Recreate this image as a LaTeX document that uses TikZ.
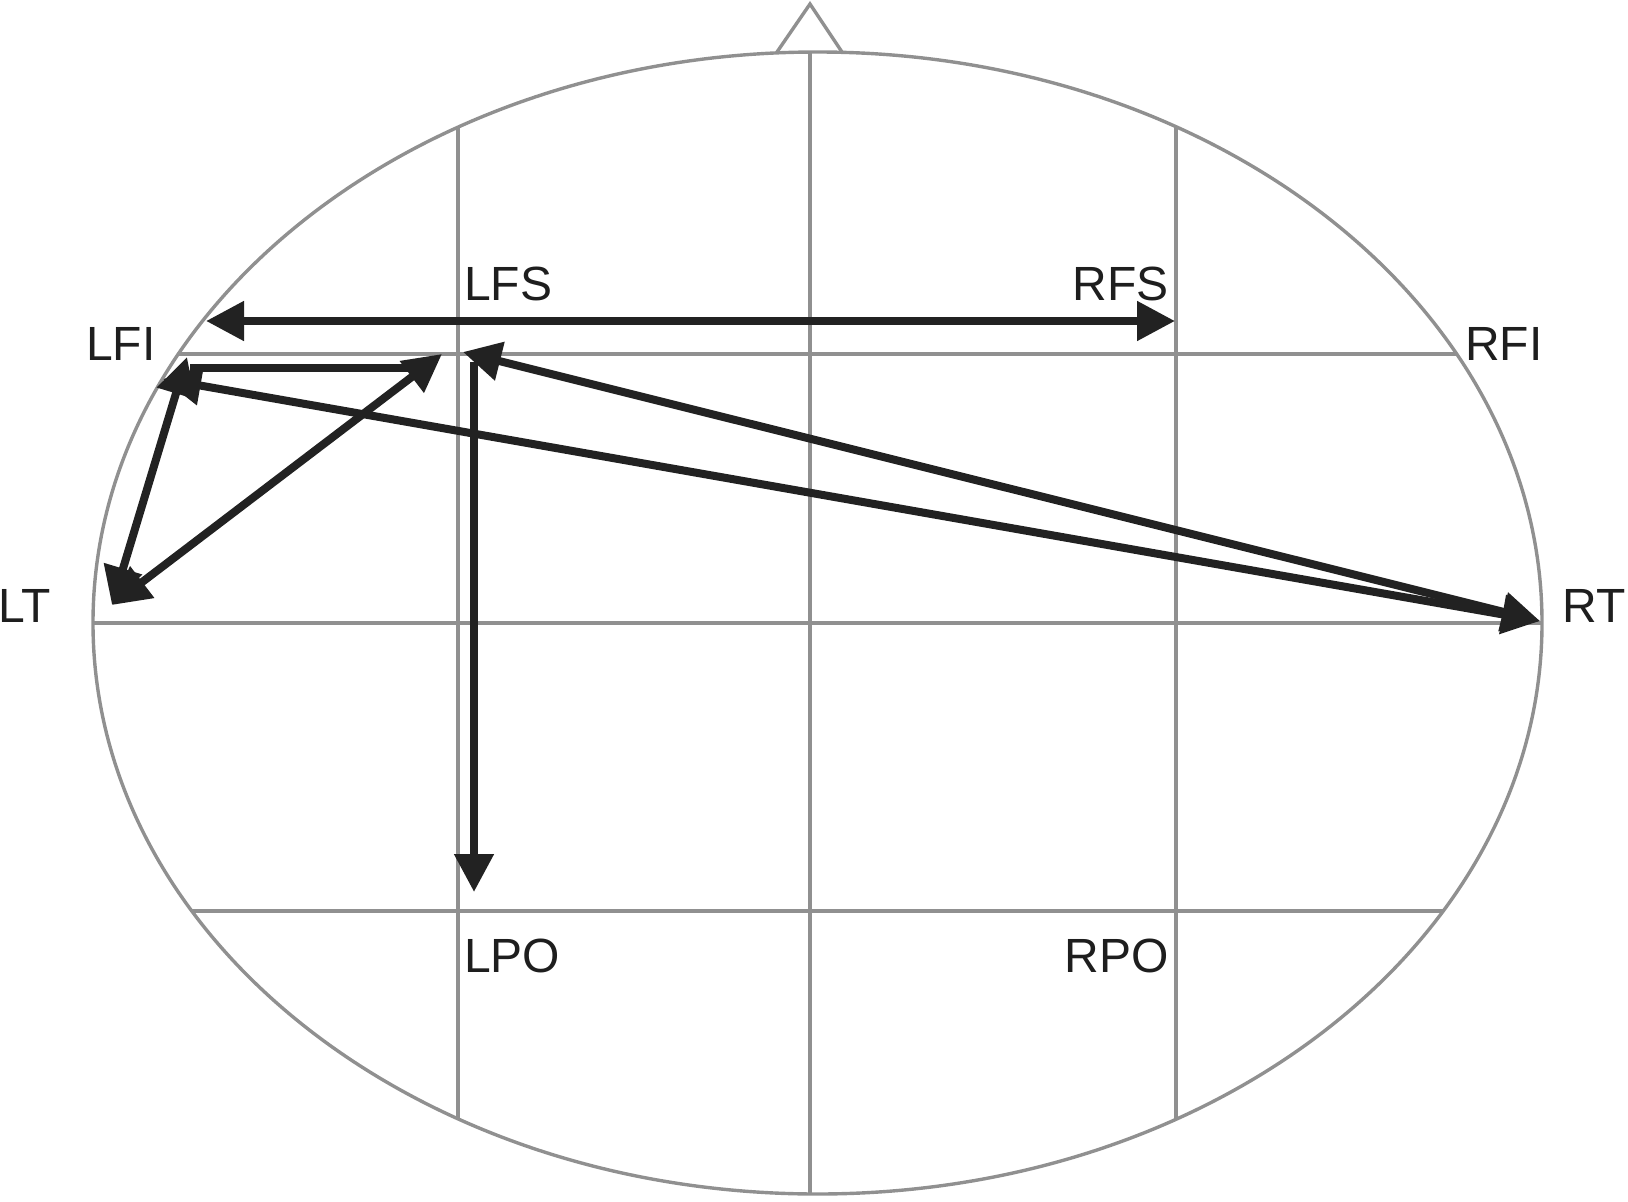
\documentclass[tikz,border=0pt]{standalone}
\usepackage{fontspec}
\setmainfont{Liberation Sans}
\usetikzlibrary{arrows.meta}
\definecolor{gridgray}{HTML}{909090}
\definecolor{arrowblack}{HTML}{222222}
\definecolor{textblack}{HTML}{1E1E1E}
\begin{document}
\begin{tikzpicture}[x=1pt,y=-1pt,
  gridline/.style={draw=gridgray, line width=3.4pt},
  head/.tip={Triangle[length=38pt,width=38pt]},
  conn/.style={draw=arrowblack, line width=8pt},
  lbl/.style={text=textblack, inner sep=0pt, font=\fontsize{48}{50}\selectfont}]
\useasboundingbox (0,0) rectangle (1628,1202);
% head outline
\begin{scope}
  \clip (817.5,623) ellipse [x radius=724.5pt, y radius=571pt];
  \draw[gridline] (458,0) -- (458,1202);
  \draw[gridline] (810,0) -- (810,1202);
  \draw[gridline] (1176,0) -- (1176,1202);
  \draw[gridline] (0,354) -- (1628,354);
  \draw[gridline] (0,623) -- (1628,623);
  \draw[gridline] (0,911) -- (1628,911);
\end{scope}
\draw[gridline] (817.5,623) ellipse [x radius=724.5pt, y radius=571pt];
\draw[gridline, line join=miter] (777,52) -- (810,4) -- (842,52);
% points
\coordinate (LFItop) at (206,321);
\coordinate (RFStip) at (1175,321);
\coordinate (LFIa) at (187,357);
\coordinate (LFIb) at (163,379);
\coordinate (LFIh) at (190,368);
\coordinate (LFSh) at (412,368);
\coordinate (LTpt) at (112,605);
\coordinate (LFSa) at (442,354);
\coordinate (LFSb) at (463,352);
\coordinate (LFSv) at (474,362);
\coordinate (LPOpt) at (474,892);
\coordinate (RTpt) at (1540,621);
% connectors
\draw[conn, head-head] (LFItop) -- (RFStip);
\draw[conn] (LFIh) -- (LFSh);
\draw[conn, head-head] (LFIa) -- (LTpt);
\draw[conn, head-head] (LTpt) -- (LFSa);
\draw[conn, head-head] (LFIb) -- (RTpt);
\draw[conn, head-head] (RTpt) -- (LFSb);
\draw[conn, -head] (LFSv) -- (LPOpt);
% labels
\node[lbl, anchor=base west] (tLFS) at (464,300) {LFS};
\node[lbl, anchor=base east] (tRFS) at (1169,300) {RFS};
\node[lbl, anchor=base west] (tLFI) at (86,360) {LFI};
\node[lbl, anchor=base west] (tRFI) at (1465,360) {RFI};
\node[lbl, anchor=base west] (tLT) at (-2,622) {LT};
\node[lbl, anchor=base west] (tRT) at (1562,622) {RT};
\node[lbl, anchor=base west] (tLPO) at (464,972) {LPO};
\node[lbl, anchor=base east] (tRPO) at (1169,972) {RPO};
\end{tikzpicture}
\end{document}
